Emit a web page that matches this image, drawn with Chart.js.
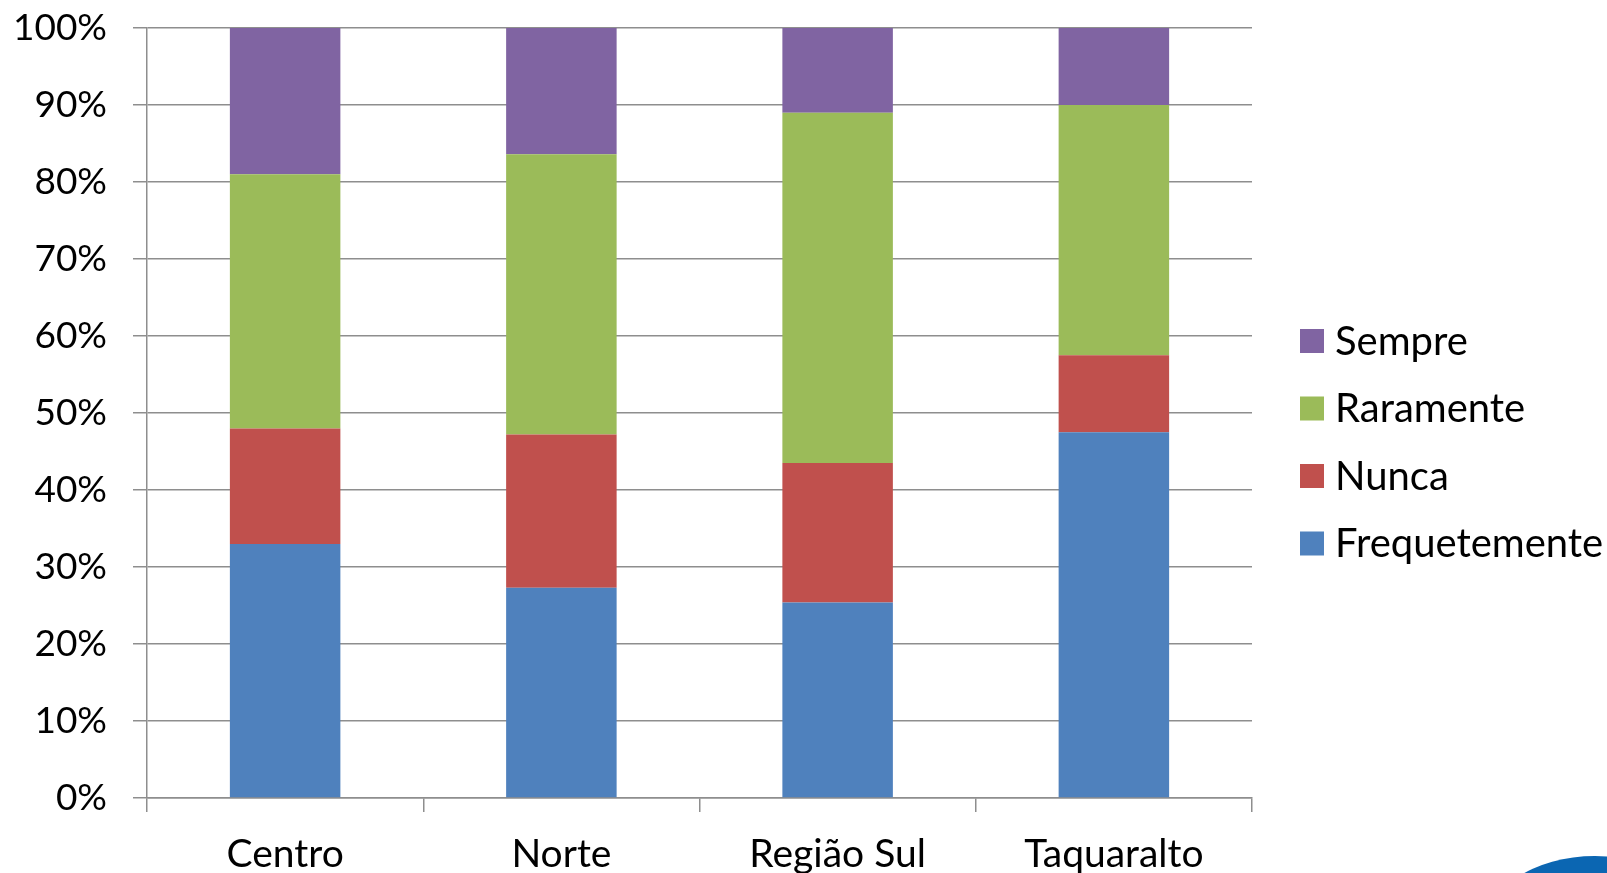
<!DOCTYPE html>
<html>
<head>
<meta charset="utf-8">
<script src="https://cdn.jsdelivr.net/npm/chart.js@4/dist/chart.umd.min.js"></script>
<style>
  html, body { margin: 0; padding: 0; background: #fff; overflow: hidden; }
  canvas { display: block; }
</style>
</head>
<body>
<canvas id="chart" width="1607" height="873"></canvas>
<script>
(function(){
    // values, in percent
    let regions = ['Centro', 'Norte', 'Região Sul', 'Taquaralto'];
    let frequetemente = [33.0, 27.3, 25.4, 47.5];
    let nunca = [15.0, 19.9, 18.1, 10.0];
    let raramente = [33.0, 36.4, 45.5, 32.5];
    let sempre = [19.0, 16.4, 11.0, 10.0];
    let yTicks = [0, 10, 20, 30, 40, 50, 60, 70, 80, 90, 100];

    let fontFamily = 'Lato, "Open Sans", sans-serif';
    let gridColor = '#8e8e8e';

    // legend drawn next to the plot, top item first (same order as the stack, reversed)
    let sideLegend = {
        id: 'sideLegend',
        afterDraw(chart) {
            let ctx = chart.ctx;
            let sets = chart.data.datasets.slice().reverse();
            ctx.save();
            ctx.font = '40px ' + fontFamily;
            ctx.textBaseline = 'middle';
            ctx.textAlign = 'left';
            sets.forEach((ds, i) => {
                let cy = 341 + i * 67.5;
                ctx.fillStyle = ds.backgroundColor;
                ctx.fillRect(1300, cy - 12, 24, 24);
                ctx.fillStyle = '#000';
                ctx.fillText(ds.label, 1335, cy + 1);
            });
            ctx.restore();
        }
    };

    // the blue shape peeking in at the bottom right corner
    let cornerShape = {
        id: 'cornerShape',
        afterDraw(chart) {
            let ctx = chart.ctx;
            ctx.save();
            ctx.fillStyle = '#0b66b2';
            ctx.beginPath();
            ctx.ellipse(1595, 932, 112, 76, 0, 0, Math.PI * 2);
            ctx.fill();
            ctx.restore();
        }
    };

    let ctx = document.getElementById('chart').getContext('2d');
    new Chart(ctx, {
        type: 'bar',
        data: {
            labels: regions,
            datasets: [
                { label: 'Frequetemente', data: frequetemente, backgroundColor: '#4f81bd' },
                { label: 'Nunca', data: nunca, backgroundColor: '#c0504d' },
                { label: 'Raramente', data: raramente, backgroundColor: '#9bbb59' },
                { label: 'Sempre', data: sempre, backgroundColor: '#8064a2' }
            ]
        },
        options: {
            responsive: false,
            animation: false,
            layout: { padding: { left: 0, top: 28, right: 355, bottom: 0 } },
            datasets: {
                bar: { categoryPercentage: 0.8, barPercentage: 0.5, borderWidth: 0 }
            },
            plugins: {
                legend: { display: false },
                tooltip: { enabled: false }
            },
            scales: {
                x: {
                    stacked: true,
                    afterFit(scale) {
                        scale.height = 75;
                        scale.paddingLeft = 0;
                        scale.paddingRight = 0;
                    },
                    grid: {
                        offset: true,
                        drawOnChartArea: false,
                        drawTicks: true,
                        tickLength: 14,
                        color: gridColor,
                        lineWidth: 1.5
                    },
                    border: { display: true, color: gridColor, width: 1.5 },
                    ticks: {
                        color: '#000',
                        padding: 19,
                        maxRotation: 0,
                        font: { family: fontFamily, size: 39 }
                    }
                },
                y: {
                    stacked: true,
                    min: 0,
                    max: 100,
                    afterFit(scale) {
                        scale.width = 147;
                        scale.paddingTop = 0;
                        scale.paddingBottom = 0;
                    },
                    afterBuildTicks(scale) {
                        scale.ticks = yTicks.map(v => ({ value: v }));
                    },
                    grid: {
                        color: gridColor,
                        lineWidth: 1.5,
                        tickLength: 14
                    },
                    border: { display: true, color: gridColor, width: 1.5 },
                    ticks: {
                        color: '#000',
                        padding: 26,
                        font: { family: fontFamily, size: 37 },
                        callback: (v) => v + '%'
                    }
                }
            }
        },
        plugins: [sideLegend, cornerShape]
    });
})();
</script>
</body>
</html>
